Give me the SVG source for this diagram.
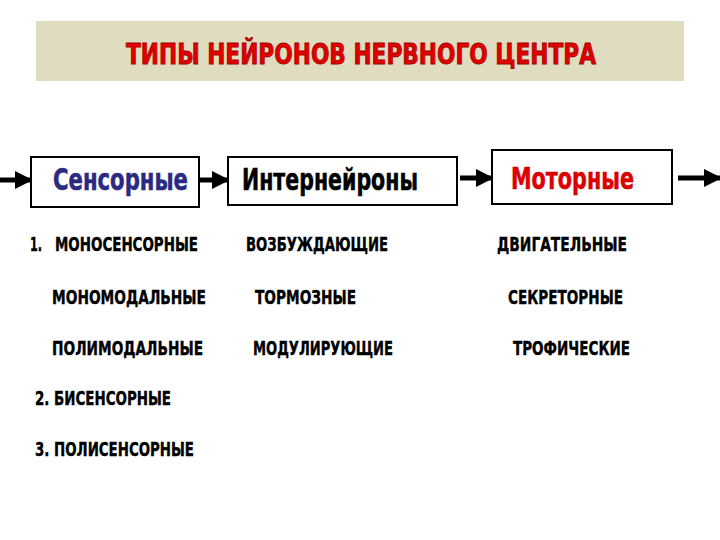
<svg xmlns="http://www.w3.org/2000/svg" width="720" height="540" viewBox="0 0 720 540">
<defs>
<style>
text{font-family:"Liberation Sans Narrow","DejaVu Sans Condensed","DejaVu Sans",sans-serif;font-weight:bold;}
.box{fill:#fff;stroke:#000;stroke-width:2;}
.lbl{font-size:20px;fill:#000;stroke:#000;stroke-width:0.4;}
.conn{stroke:#000;stroke-width:5;fill:none;marker-end:url(#ah);}
</style>
<marker id="ah" viewBox="0 0 10 10" refX="9" refY="5" markerWidth="3.6" markerHeight="3.6" orient="auto" markerUnits="strokeWidth">
<path d="M0,0 L10,5 L0,10 z" fill="#000"/>
</marker>
</defs>
<rect width="720" height="540" fill="#fff"/>
<g id="title">
<rect x="36" y="21" width="648" height="60" fill="#dfdcbf"/>
<text x="361" y="64" text-anchor="middle" font-size="29" fill="#e00000" stroke="#a00000" stroke-width="0.8" textLength="470" lengthAdjust="spacingAndGlyphs">ТИПЫ  НЕЙРОНОВ  НЕРВНОГО  ЦЕНТРА</text>
</g>
<g id="connectors">
<line class="conn" x1="0" y1="180" x2="31" y2="180"/>
<line class="conn" x1="199" y1="180" x2="228" y2="180"/>
<line class="conn" x1="460" y1="178" x2="492" y2="178"/>
<line class="conn" x1="678" y1="178" x2="720" y2="178"/>
</g>
<g id="sensory">
<rect class="box" x="31" y="157" width="168" height="50"/>
<text x="53" y="190" font-size="30" fill="#2a2a80" stroke="#2a2a80" stroke-width="0.5" textLength="135" lengthAdjust="spacingAndGlyphs">Сенсорные</text>
</g>
<g id="interneurons">
<rect class="box" x="228" y="157" width="229" height="48"/>
<text x="242" y="190" font-size="30" fill="#000" stroke="#000" stroke-width="0.5" textLength="176" lengthAdjust="spacingAndGlyphs">Интернейроны</text>
</g>
<g id="motor">
<rect class="box" x="492" y="150" width="180" height="54"/>
<text x="511" y="189" font-size="30" fill="#e00000" stroke="#c00000" stroke-width="0.5" textLength="123" lengthAdjust="spacingAndGlyphs">Моторные</text>
</g>
<g id="sensory-list">
<text class="lbl" x="30" y="251" textLength="12" lengthAdjust="spacingAndGlyphs">1.</text>
<text class="lbl" x="55" y="251" textLength="143" lengthAdjust="spacingAndGlyphs">МОНОСЕНСОРНЫЕ</text>
<text class="lbl" x="52" y="304" textLength="154" lengthAdjust="spacingAndGlyphs">МОНОМОДАЛЬНЫЕ</text>
<text class="lbl" x="52" y="355" textLength="151" lengthAdjust="spacingAndGlyphs">ПОЛИМОДАЛЬНЫЕ</text>
<text class="lbl" x="35" y="405" textLength="136" lengthAdjust="spacingAndGlyphs">2. БИСЕНСОРНЫЕ</text>
<text class="lbl" x="35" y="456" textLength="159" lengthAdjust="spacingAndGlyphs">3. ПОЛИСЕНСОРНЫЕ</text>
</g>
<g id="inter-list">
<text class="lbl" x="246" y="251" textLength="142" lengthAdjust="spacingAndGlyphs">ВОЗБУЖДАЮЩИЕ</text>
<text class="lbl" x="255" y="304" textLength="101" lengthAdjust="spacingAndGlyphs">ТОРМОЗНЫЕ</text>
<text class="lbl" x="253" y="355" textLength="140" lengthAdjust="spacingAndGlyphs">МОДУЛИРУЮЩИЕ</text>
</g>
<g id="motor-list">
<text class="lbl" x="497" y="251" textLength="130" lengthAdjust="spacingAndGlyphs">ДВИГАТЕЛЬНЫЕ</text>
<text class="lbl" x="508" y="304" textLength="115" lengthAdjust="spacingAndGlyphs">СЕКРЕТОРНЫЕ</text>
<text class="lbl" x="513" y="355" textLength="117" lengthAdjust="spacingAndGlyphs">ТРОФИЧЕСКИЕ</text>
</g>
</svg>
